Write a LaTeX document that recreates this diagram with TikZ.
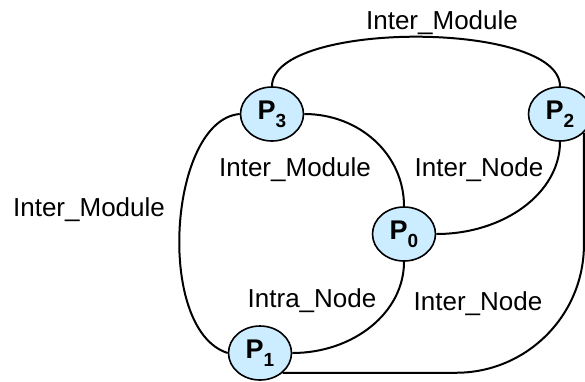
\documentclass[tikz,border=0pt]{standalone}
\usepackage{fontspec}
\setmainfont{Liberation Sans}
\usetikzlibrary{shapes.geometric,backgrounds}
\definecolor{procfill}{RGB}{204,236,255}
\tikzset{
  proc/.style={ellipse, draw=black, line width=1.6pt, fill=procfill,
    minimum width=63pt, minimum height=54pt, inner sep=0pt,
    font=\bfseries\fontsize{27}{27}\selectfont},
  link/.style={draw=black, line width=2pt},
  lbl/.style={anchor=base, inner sep=0pt, font=\fontsize{26}{30}\selectfont}
}
\newcommand{\proc}[1]{P\raisebox{-8pt}{\fontsize{19}{19}\selectfont #1}}
\begin{document}
\begin{tikzpicture}[x=1pt,y=-1pt]
  \useasboundingbox (0,0) rectangle (585,381);

  % processes
  \node[proc] (P3) at (272,114) {\proc{3}};
  \node[proc] (P2) at (560,114) {\proc{2}};
  \node[proc] (P0) at (404,234) {\proc{0}};
  \node[proc] (P1) at (260,353) {\proc{1}};

  % links, kept behind the ellipses
  \begin{scope}[on background layer]
  \draw[link] (P3.north) .. controls +(0,-66) and +(0,-66) .. (P2.north);
  \draw[link] (P3.east) .. controls +(55,0) and +(0,-52) .. (P0.north);
  \draw[link] (P2.south) .. controls +(0,51) and +(68,0) .. (P0.east);
  \draw[link] (P0.south) .. controls +(0,51) and +(61,0) .. (P1.east);
  \draw[link] (P3.west) .. controls +(-71,6) and +(-73,-23) .. (P1.west);
  \draw[link, rounded corners=128pt] (P1.-41) -| (P2.-38);
  \end{scope}

  % link labels
  \node[lbl] (l32) at (442,29) {Inter\_Module};
  \node[lbl] (l30) at (295,176) {Inter\_Module};
  \node[lbl] (l20) at (479,176) {Inter\_Node};
  \node[lbl] (l31) at (89,216) {Inter\_Module};
  \node[lbl] (l01) at (312,307) {Intra\_Node};
  \node[lbl] (l12) at (478,310) {Inter\_Node};
\end{tikzpicture}
\end{document}
